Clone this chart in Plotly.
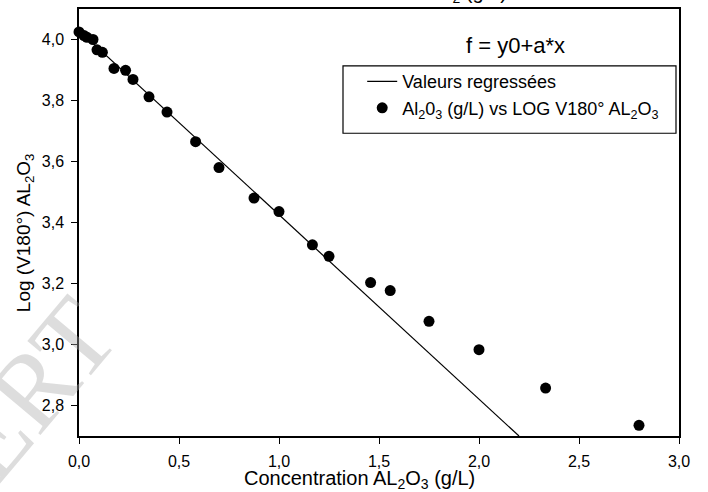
import plotly.graph_objects as go

# Data
conc = [0.0, 0.025, 0.04, 0.07, 0.09, 0.117, 0.175, 0.233, 0.27, 0.35, 0.44,
        0.583, 0.70, 0.875, 1.0, 1.167, 1.25, 1.458, 1.556, 1.75, 2.0, 2.333, 2.8]
logv = [4.025, 4.013, 4.007, 4.0, 3.966, 3.958, 3.905, 3.899, 3.869, 3.812, 3.762,
        3.665, 3.580, 3.480, 3.436, 3.327, 3.289, 3.203, 3.177, 3.076, 2.983, 2.857, 2.735]

reg_x = [0.0, 2.2]
reg_y = [4.03, 2.70]

x_ticks = [0.0, 0.5, 1.0, 1.5, 2.0, 2.5, 3.0]
y_ticks = [2.8, 3.0, 3.2, 3.4, 3.6, 3.8, 4.0]

FONT = "Liberation Sans, Arial, sans-serif"

fig = go.Figure()
fig.add_trace(go.Scatter(
    x=reg_x, y=reg_y, mode="lines",
    line=dict(color="black", width=1.2),
    name="Valeurs regressées",
))
fig.add_trace(go.Scatter(
    x=conc, y=logv, mode="markers",
    marker=dict(color="black", size=11, line=dict(width=0)),
    cliponaxis=False,
    name="Al<sub>2</sub>0<sub>3</sub> (g/L) vs LOG V180° AL<sub>2</sub>O<sub>3</sub>",
))

axis_common = dict(
    showgrid=False, zeroline=False, showline=True, linecolor="black", linewidth=1.5,
    mirror=True, ticks="outside", ticklen=6, tickwidth=1.2, tickcolor="black",
    tickfont=dict(family=FONT, size=16, color="black"), tickformat=".1f",
)

fig.update_xaxes(range=[0, 3.0], tickvals=x_ticks, ticklabelstandoff=4, **axis_common)
fig.update_yaxes(range=[2.7, 4.1], tickvals=y_ticks, ticklabelstandoff=4, **axis_common)

fig.update_layout(
    width=708, height=492,
    margin=dict(l=79, r=29, t=7, b=56),
    paper_bgcolor="white", plot_bgcolor="white",
    separators=", ",
    font=dict(family=FONT, color="black"),
    showlegend=True,
    legend=dict(
        x=0.472, y=0.873, xanchor="left", yanchor="top",
        bgcolor="rgba(0,0,0,0)", borderwidth=0,
        font=dict(family=FONT, size=18, color="black"),
        tracegroupgap=0, itemwidth=30,
    ),
    shapes=[dict(
        type="rect", xref="paper", yref="paper",
        x0=0.44, x1=0.995, y0=0.709, y1=0.867,
        line=dict(color="black", width=1.2), fillcolor="rgba(0,0,0,0)",
    )],
    annotations=[
        dict(text="ERT", xref="paper", yref="paper",
             x=-0.08, y=0.11, xanchor="center", yanchor="middle", showarrow=False,
             textangle=-50, font=dict(family="Liberation Serif, serif", size=108,
                                      color="rgba(170,170,170,0.4)")),
        dict(text="f = y0+a*x", xref="paper", yref="paper", x=0.7267, y=0.914,
             xanchor="center", yanchor="middle", showarrow=False,
             font=dict(family=FONT, size=22, color="black")),
        dict(text="Concentration AL<sub>2</sub>O<sub>3</sub> (g/L)", xref="paper", yref="paper",
             x=0.468, y=-0.103, xanchor="center", yanchor="middle", showarrow=False,
             font=dict(family=FONT, size=20, color="black")),
        dict(text="Log (V180°) AL<sub>2</sub>O<sub>3</sub>", xref="paper", yref="paper",
             x=-0.09, y=0.475, xanchor="center", yanchor="middle", showarrow=False,
             textangle=-90, font=dict(family=FONT, size=19, color="black")),
        dict(text="AL<sub>2</sub> (g/L)", xref="paper", yref="paper",
             x=0.717, y=1.003, xanchor="right", yanchor="bottom", showarrow=False,
             font=dict(family=FONT, size=20, color="black")),
    ],
)

fig.write_html("out.html")
